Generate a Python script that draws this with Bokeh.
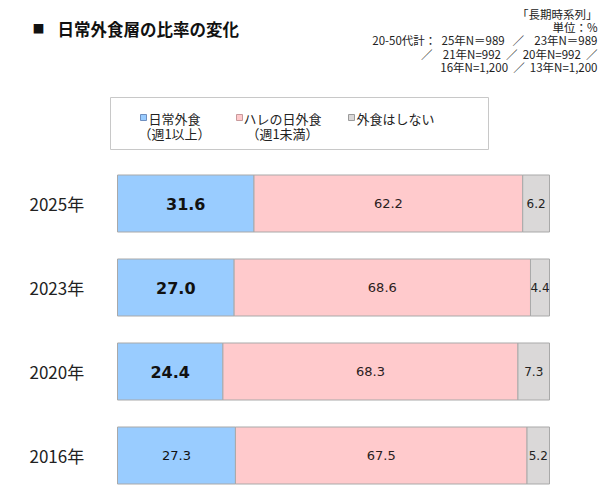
from bokeh.plotting import figure
from bokeh.models import ColumnDataSource, Range1d
from bokeh.core.properties import value
from bokeh.embed import file_html
from bokeh.resources import INLINE

# ---- data -------------------------------------------------------------
years = ["2025年", "2023年", "2020年", "2016年"]
daily = [31.6, 27.0, 24.4, 27.3]        # 日常外食（週1以上）
special = [62.2, 68.6, 68.3, 67.5]      # ハレの日外食（週1未満）
none_ = [6.2, 4.4, 7.3, 5.2]            # 外食はしない
daily_bold = [True, True, True, False]

series_names = ["日常外食\n（週1以上）", "ハレの日外食\n（週1未満）", "外食はしない"]
title_text = "日常外食層の比率の変化"
note_lines = [
    "「長期時系列」",
    "単位：%",
    "20-50代計：  25年N＝989   ／    23年N＝989",
    "／    21年N=992  ／  20年N=992  ／",
    "16年N=1,200  ／  13年N=1,200",
]

# ---- style ------------------------------------------------------------
W, H = 612, 504
JP = "Noto Sans CJK JP"
NUM = "DejaVu Sans"
colors = ["#99CCFF", "#FFCACC", "#DAD8D8"]
edge = "#A9A9A9"
bar_left_px, bar_right_px = 117, 549
px_per_unit = (bar_right_px - bar_left_px) / 100.0

p = figure(width=W, height=H, output_backend="svg", toolbar_location=None,
           x_axis_location=None, y_axis_location=None, min_border=0,
           x_range=Range1d(-bar_left_px / px_per_unit, (W - bar_left_px) / px_per_unit),
           y_range=Range1d(H, 0))
p.outline_line_color = None
p.grid.visible = False
p.background_fill_color = "white"
p.border_fill_color = "white"
# pixel-based range for titles, notes and the legend panel
p.extra_x_ranges = {"px": Range1d(0, W)}

# ---- bars -------------------------------------------------------------
row_y = [203 + 84 * i for i in range(len(years))]
bar_h = 57

c1 = daily
c2 = [a + b for a, b in zip(daily, special)]
c3 = [a + b for a, b in zip(c2, none_)]
src = ColumnDataSource(dict(
    y=row_y, year=years,
    l1=[0] * len(years), r1=c1, l2=c1, r2=c2, l3=c2, r3=c3,
    m1=[v / 2 for v in c1],
    m2=[a + b / 2 for a, b in zip(c1, special)],
    m3=[a + b / 2 for a, b in zip(c2, none_)],
    t1=[f"{v:.1f}" for v in daily],
    t2=[f"{v:.1f}" for v in special],
    t3=[f"{v:.1f}" for v in none_],
    fs1=["bold" if b else "normal" for b in daily_bold],
    sz1=["16px" if b else "13px" for b in daily_bold],
))

for (l, r), col in zip([("l1", "r1"), ("l2", "r2"), ("l3", "r3")], colors):
    p.hbar(y="y", left=l, right=r, height=bar_h, source=src,
           fill_color=col, line_color=edge, line_width=1)

p.text(x="m1", y="y", text="t1", source=src, text_align="center",
       text_baseline="middle", text_font=value(NUM), text_font_size="sz1",
       text_font_style="fs1", text_color="#111111")
p.text(x="m2", y="y", text="t2", source=src, text_align="center",
       text_baseline="middle", text_font=value(NUM), text_font_size="13px",
       text_color="#2a2020")
p.text(x="m3", y="y", text="t3", source=src, text_align="center",
       text_baseline="middle", text_font=value(NUM), text_font_size="12px",
       text_color="#222222")

# year labels
p.text(x=[29] * len(years), y=row_y, text=years, x_range_name="px",
       text_align="left", text_baseline="middle", text_font=value(JP),
       text_font_size="17px", text_color="#222222")

# ---- title & notes ----------------------------------------------------
p.text(x=[32], y=[28], text=["■"], x_range_name="px", text_align="left",
       text_baseline="middle", text_font=value(JP), text_font_size="12px",
       text_color="#111111")
p.text(x=[57], y=[28], text=[title_text], x_range_name="px", text_align="left",
       text_baseline="middle", text_font=value(JP), text_font_size="16.5px",
       text_font_style="bold", text_color="#111111")
# SVG collapses runs of ordinary spaces, so keep the gaps as no-break spaces
notes_drawn = [s.replace(" ", "\u00a0") for s in note_lines]
p.text(x=[597] * len(notes_drawn), y=[13 + 13.4 * i for i in range(len(notes_drawn))],
       text=notes_drawn, x_range_name="px", text_align="right",
       text_baseline="middle", text_font=value(JP), text_font_size="11.5px",
       text_color="#222222")

# ---- legend panel -----------------------------------------------------
p.quad(left=[110], right=[488], top=[97], bottom=[149], x_range_name="px",
       fill_color="white", line_color="#C8C8C8", line_width=1)
glyph_x = [143, 239, 351]
label_cx = [174, 282, 395]
glyph_edges = ["#6F8FBF", "#C89A9C", "#9A9A9A"]
p.rect(x=glyph_x, y=[117] * 3, width=6, height=6, width_units="screen",
       height_units="screen", x_range_name="px", fill_color=colors,
       line_color=glyph_edges, line_width=1)
first = [s.split("\n")[0] for s in series_names]
second = [s.split("\n")[1] if "\n" in s else "" for s in series_names]
p.text(x=label_cx, y=[118] * 3, text=first, x_range_name="px",
       text_align="center", text_baseline="middle", text_font=value(JP),
       text_font_size="13px", text_color="#222222")
p.text(x=label_cx, y=[133] * 3, text=second, x_range_name="px",
       text_align="center", text_baseline="middle", text_font=value(JP),
       text_font_size="13px", text_color="#222222")

open("out.html", "w").write(file_html(p, INLINE))
